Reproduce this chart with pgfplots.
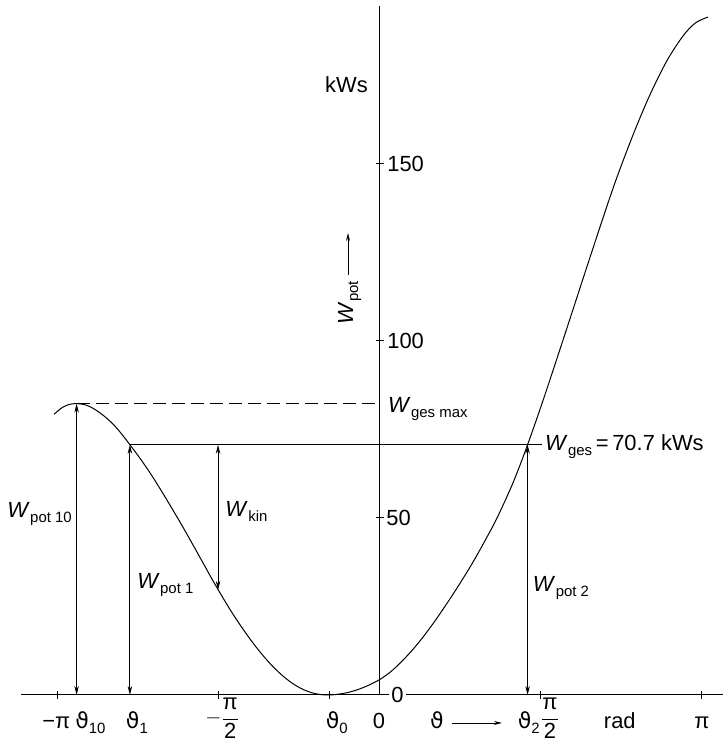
\documentclass[border=0pt]{standalone}
\usepackage{fontspec}
\setmainfont{Liberation Sans}
\newfontfamily\dv{DejaVu Sans}
\usepackage{pgfplots}
\pgfplotsset{compat=1.18}
\usetikzlibrary{arrows.meta}
\newcommand\sub[1]{\raisebox{-5bp}{\fontsize{15}{15}\selectfont #1}}
\newcommand\Wl[1]{\textit{W}\kern0.5bp\sub{#1}}
\newcommand\vt{{\dv ϑ}}
\tikzset{lab/.style={font=\fontsize{22}{26}\selectfont, inner sep=0pt},
  dbl/.style={{Stealth[length=9bp,width=4.5bp]}-{Stealth[length=9bp,width=4.5bp]}, line width=0.8bp}}
\begin{document}
\begin{tikzpicture}
\begin{axis}[
  scale only axis, width=702.1bp, height=688.9bp,
  xmin=-3.5, xmax=3.35, ymin=0, ymax=194.6,
  axis lines=middle, axis line style={line width=1bp,-},
  enlargelimits=false, clip=false, no markers,
  xtick={-3.14159,-1.5708,-0.49,1.5708,3.14159},
  ytick={50,100,150},
  xticklabels={}, yticklabels={},
  tick align=center, major tick length=8bp,
  tick style={line width=1bp, black},
]
\coordinate (SW) at (rel axis cs:0,0);
\coordinate (NE) at (rel axis cs:1,1);
\addplot[smooth, tension=0.5, line width=1bp] coordinates {
(-3.18,79.3) (-3.10,81.2) (-3.03,82.1) (-2.96,82.3) (-2.88,82.0) (-2.80,81.0)
(-2.70,79.0) (-2.60,76.4) (-2.52,73.7) (-2.44,70.7) (-2.34,66.8) (-2.24,62.6)
(-2.14,58.0) (-2.04,53.2) (-1.94,48.3) (-1.84,43.2) (-1.74,38.0) (-1.64,32.8)
(-1.57,29.3) (-1.46,24.0) (-1.36,19.6) (-1.26,15.5) (-1.16,11.8) (-1.06,8.5)
(-0.96,5.7) (-0.86,3.4) (-0.76,1.7) (-0.66,0.6) (-0.57,0.1) (-0.49,0.0)
(-0.40,0.25) (-0.30,0.8) (-0.20,1.7) (-0.10,2.9) (0.00,4.4) (0.11,6.7)
(0.22,9.7) (0.34,13.5) (0.45,17.5) (0.56,21.9) (0.72,28.8) (0.88,36.2)
(1.00,42.3) (1.14,49.9) (1.30,60.1) (1.44,70.7) (1.60,84.0) (1.82,103.3)
(2.00,119.3) (2.15,132.5) (2.30,145.3) (2.47,158.3) (2.63,169.3) (2.80,179.2)
(2.96,186.3) (3.08,189.9) (3.20,191.5)};
\addplot[dash pattern=on 13bp off 6bp, line width=0.8bp] coordinates {(-2.96,82.3) (0,82.3)};
\addplot[line width=0.8bp] coordinates {(-2.44,70.7) (1.58,70.7)};
\addplot[dbl] coordinates {(-2.96,0) (-2.96,82.3)};
\addplot[dbl] coordinates {(-2.44,0) (-2.44,70.7)};
\addplot[dbl] coordinates {(1.44,0) (1.44,70.7)};
\addplot[dbl] coordinates {(-1.58,70.7) (-1.58,29.7)};
\addplot[-{Stealth[length=8bp,width=4bp]}, line width=0.8bp] coordinates {(-0.312,118.6) (-0.312,130.5)};
\addplot[-{Stealth[length=8bp,width=4bp]}, line width=0.8bp] coordinates {(0.70,-7.9) (1.19,-7.9)};
% y labels
\node[lab, anchor=base east] at (axis cs:-0.117,170.3) {kWs};
\node[lab, anchor=west] at (axis cs:0.07,150) {150};
\node[lab, anchor=west] at (axis cs:0.07,100) {100};
\node[lab, anchor=west] at (axis cs:0.06,50) {50};
\node[lab, anchor=west, fill=white, inner sep=2bp] at (axis cs:0.09,0) {0};
\node[lab, rotate=90, anchor=base west] at (axis cs:-0.263,104.5) {\Wl{pot}};
% annotations
\node[lab, anchor=base east] at (axis cs:-3.005,50) {\Wl{pot 10}};
\node[lab, anchor=base west] at (axis cs:-2.37,30.2) {\Wl{pot 1}};
\node[lab, anchor=base west] at (axis cs:-1.51,50.3) {\Wl{kin}};
\node[lab, anchor=base west] at (axis cs:1.49,29.1) {\Wl{pot 2}};
\node[lab, anchor=base west] at (axis cs:0.078,79.9) {\Wl{ges max}};
\node[lab, anchor=base west] at (axis cs:1.61,69.1) {\Wl{ges}\,=\,70.7 kWs};
% x labels
\node[lab, anchor=base east] at (axis cs:-3.02,-9.5) {−π};
\node[lab, anchor=base west] at (axis cs:-2.975,-9.5) {\vt\sub{10}};
\node[lab, anchor=base west] at (axis cs:-2.48,-9.5) {\vt\sub{1}};
\node[lab, anchor=north] at (axis cs:-1.54,-0.9) {$-\displaystyle\frac{\mbox{π}}{\mbox{2}}$};
\node[lab, anchor=base west] at (axis cs:-0.53,-9.5) {\vt\sub{0}};
\node[lab, anchor=base] at (axis cs:-0.01,-9.5) {0};
\node[lab, anchor=base west] at (axis cs:0.488,-9.5) {\vt};
\node[lab, anchor=base east] at (axis cs:1.561,-9.5) {\vt\sub{2}};
\node[lab, anchor=north west] at (axis cs:1.571,-0.9) {$\displaystyle\frac{\mbox{π}}{\mbox{2}}$};
\node[lab, anchor=base] at (axis cs:2.34,-9.5) {rad};
\node[lab, anchor=base] at (axis cs:3.1416,-9.5) {π};
\end{axis}
\pgfresetboundingbox
\path ([shift={(-21.25bp,-47bp)}]SW) rectangle ([shift={(1.6bp,6.1bp)}]NE);
\end{tikzpicture}
\end{document}
